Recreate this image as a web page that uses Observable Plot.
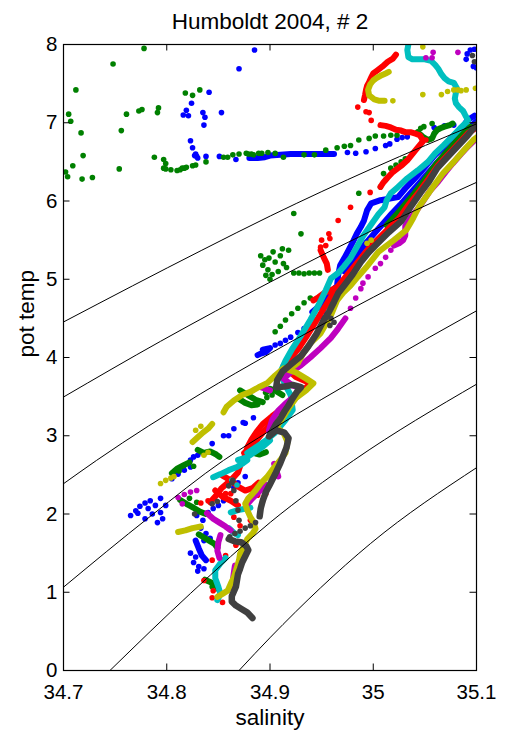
<!DOCTYPE html>
<html><head><meta charset="utf-8">
<script src="https://cdn.jsdelivr.net/npm/d3@7"></script>
<script src="https://cdn.jsdelivr.net/npm/@observablehq/plot@0.6"></script>
<style>body{margin:0;background:#fff} svg{display:block}</style>
</head><body><div id="chart"></div>
<script>
const title = "Humboldt 2004, # 2";
const xLabel = "salinity";
const yLabel = "pot temp";
const xTicks = [34.7, 34.8, 34.9, 35, 35.1];
const yTicks = [0, 1, 2, 3, 4, 5, 6, 7, 8];

// isopycnal contour lines [salinity, pot temp]
const isopycnals = [
  [[34.700,4.454],[34.834,5.371],[34.9005,5.810],[35.000,6.42],[35.101,6.991]],
  [[34.700,3.495],[34.794,4.207],[34.9005,4.966],[34.960,5.371],[35.101,6.244]],
  [[34.700,2.387],[34.732,2.685],[34.833,3.538],[34.9005,4.054],[35.000,4.77],[35.101,5.448]],
  [[34.700,1.065],[34.784,1.969],[34.855,2.685],[34.9005,3.069],[35.000,3.849],[35.101,4.604]],
  [[34.745,0],[34.823,0.985],[34.9005,1.896],[34.981,2.685],[35.101,3.666]],
  [[34.870,0],[34.9005,0.426],[34.9975,1.624],[35.101,2.60]]
];

// ---- blue casts
const blueTracks = [
  [[34.880,6.55],[34.888,6.55],[34.895,6.56],[34.900,6.58],[34.910,6.59],[34.920,6.60],[34.930,6.60],[34.940,6.60],[34.950,6.60],[34.962,6.60]],
  [[35.098,7.09],[35.091,7.03],[35.085,6.91],[35.075,6.80],[35.068,6.69],[35.060,6.59],[35.053,6.48],[35.046,6.37],[35.039,6.27],[35.031,6.16],[35.024,6.05],[35.007,6.01],[34.998,5.97],[34.994,5.88],[34.991,5.75],[34.988,5.67],[34.984,5.58],[34.980,5.47],[34.976,5.37],[34.972,5.27],[34.968,5.18],[34.966,5.05],[34.965,4.92],[34.959,4.83],[34.953,4.73],[34.947,4.65],[34.941,4.58]],
  [[35.100,7.02],[35.092,6.92],[35.083,6.80],[35.074,6.67],[35.066,6.55],[35.058,6.43],[35.050,6.31],[35.042,6.19],[35.034,6.07],[35.026,5.95],[35.018,5.84],[35.010,5.72],[35.002,5.60],[34.994,5.48],[34.986,5.35],[34.979,5.22],[34.972,5.10]],
  [[34.888,4.03],[34.891,4.05],[34.896,4.07],[34.900,4.12],[34.893,4.10]],
  [[34.828,1.66],[34.831,1.56],[34.834,1.47],[34.838,1.41]]
];
const blueDots = [
  [34.885,7.93],[34.870,7.69],[34.841,7.39],[34.824,7.25],[34.819,7.16],[34.816,7.10],[34.821,7.09],[34.835,7.13],[34.837,7.07],[34.853,7.13],[34.836,6.97],[34.823,6.77],[34.825,6.68],[34.828,6.60],[34.829,6.57],[34.830,6.55],[34.827,6.58],[34.838,6.57],[34.851,6.57],[34.867,6.53],
  [35.091,7.88],[35.094,7.93],[35.098,7.94],[35.090,7.81],[35.097,7.72],[35.100,7.70],
  [34.975,6.62],[34.983,6.61],[34.993,6.63],[35.002,6.67],[35.012,6.71],[35.016,6.73],[35.023,6.79],[35.028,6.81],[35.033,6.82],[35.059,6.94],[35.069,6.96],[35.078,6.97],
  [34.960,4.60],[34.955,4.56],[34.950,4.52],[34.944,4.47],[34.937,4.41],[34.933,4.37],[34.927,4.32],[34.920,4.26],[34.915,4.22],[34.910,4.18],[34.905,4.16],
  [34.765,1.98],[34.770,2.04],[34.774,2.10],[34.779,2.14],[34.784,2.17],[34.782,2.07],[34.789,2.11],[34.794,2.20],[34.786,2.00],[34.794,2.02],[34.799,2.11],[34.796,1.94],[34.791,1.89],[34.779,1.94],[34.772,2.01],
  [34.805,2.45],[34.811,2.51],[34.817,2.56],[34.823,2.60],[34.808,2.55],
  [34.829,1.98],[34.835,1.92],[34.840,2.02],[34.845,2.07],[34.850,2.11],[34.855,2.17],
  [34.833,1.82],[34.838,1.75],[34.842,1.69],[34.836,1.66],
  [34.823,1.50],[34.828,1.45],[34.826,1.38],[34.831,1.33],[34.836,1.30],[34.830,1.27],
  [34.826,2.73],[34.844,2.90],[34.855,3.00],[34.860,3.00],[34.865,3.09],[34.874,3.17],[34.884,3.23],[34.876,3.16],
  [34.816,2.60],[34.823,2.69],[34.830,2.75],[34.865,2.34],[34.869,2.40],[34.876,2.48]
];

// ---- green casts
const greenTracks = [
  [[34.805,2.52],[34.810,2.58],[34.816,2.62],[34.822,2.66]],
  [[34.813,2.18],[34.819,2.13],[34.826,2.08],[34.832,2.03],[34.838,2.00]],
  [[34.831,1.74],[34.836,1.70],[34.841,1.66],[34.846,1.62],[34.849,1.57]],
  [[34.837,1.16],[34.842,1.13],[34.847,1.10],[34.850,1.04]],
  [[34.830,2.82],[34.836,2.78],[34.842,2.80],[34.848,2.76],[34.851,2.73]],
  [[34.871,3.58],[34.876,3.54],[34.881,3.50],[34.886,3.46],[34.893,3.43]],
  [[34.870,3.47],[34.876,3.42],[34.882,3.39],[34.888,3.40]],
  [[34.896,3.55],[34.900,3.60],[34.906,3.57],[34.912,3.52]],
  [[34.878,2.80],[34.884,2.78],[34.890,2.76],[34.896,2.79]],
  [[35.043,6.88],[35.048,6.82],[35.053,6.78],[35.057,6.80],[35.059,6.86],[35.062,6.91],[35.065,6.93],[35.069,6.95],[35.074,6.97],[35.077,6.99]],
  [[35.094,6.95],[35.086,6.85],[35.078,6.73],[35.070,6.61],[35.062,6.49],[35.055,6.37],[35.048,6.24],[35.040,6.10],[35.031,5.96],[35.022,5.82],[35.013,5.69]]
];
const greenDots = [
  [34.778,7.95],[34.748,7.75],[34.712,7.42],[34.705,7.11],[34.707,7.02],[34.717,6.87],[34.719,6.58],[34.709,6.45],[34.702,6.37],[34.704,6.31],[34.718,6.28],[34.728,6.30],[34.754,6.41],[34.756,6.90],[34.761,7.11],[34.773,7.15],[34.776,7.17],[34.791,7.13],[34.792,7.19],[34.788,6.56],[34.797,6.53],[34.799,6.48],[34.818,7.38],[34.825,7.35],[34.832,7.42],
  [34.797,6.42],[34.799,6.41],[34.804,6.40],[34.810,6.39],[34.813,6.40],[34.815,6.42],[34.817,6.42],[34.819,6.43],[34.825,6.45],[34.828,6.46],[34.838,6.50],[34.855,6.56],[34.859,6.56],[34.864,6.59],[34.870,6.60],[34.877,6.61],[34.879,6.60],[34.882,6.60],[34.884,6.59],[34.889,6.61],[34.892,6.61],[34.898,6.62],[34.905,6.61],[34.913,6.56],[34.933,6.59],[34.943,6.59],[34.954,6.65],[34.965,6.68],[34.972,6.70],[34.978,6.71],[34.986,6.78],[34.996,6.80],[35.002,6.83],[35.010,6.83],[35.017,6.84],[35.023,6.84],
  [35.046,6.93],[35.049,6.95],[35.057,6.99],
  [35.010,6.35],[35.017,6.42],[35.022,6.46],[35.027,6.50],[35.031,6.54],[35.012,6.27],[35.007,6.18],[34.986,6.10],[34.923,5.84],[34.930,5.58],[34.912,5.39],
  [34.891,5.30],[34.895,5.25],[34.893,5.18],[34.898,5.12],[34.896,5.05],[34.900,5.00],[34.903,5.35],[34.905,5.22],[34.908,5.10],[34.910,5.30],[34.913,5.20],[34.916,5.15],[34.918,5.37],[34.902,5.06],[34.899,5.27],
  [34.923,5.08],[34.928,5.08],[34.933,5.07],[34.938,5.08],[34.943,5.08],[34.948,5.08],
  [34.939,4.76],[34.933,4.70],[34.927,4.63],[34.921,4.56],[34.915,4.48],[34.910,4.40],[34.905,4.33],
  [34.826,2.61],[34.812,2.55],[34.822,2.20],[34.829,2.15],[34.844,1.07],[34.897,3.49],[34.902,3.52]
];

// ---- red casts
const redTracks = [
  [[35.022,7.87],[35.019,7.82],[35.014,7.78],[35.009,7.72],[35.004,7.67],[35.000,7.63],[34.998,7.58],[34.996,7.52],[34.994,7.47],[34.993,7.42],[34.992,7.35],[34.991,7.29]],
  [[35.007,6.97],[35.012,6.96],[35.017,6.94],[35.022,6.91],[35.027,6.90],[35.031,6.88],[35.036,6.88],[35.041,6.86],[35.045,6.84],[35.047,6.80],[35.048,6.76],[35.041,6.65],[35.033,6.52],[35.028,6.46],[35.024,6.42],[35.019,6.37],[35.014,6.30],[35.010,6.24],[35.007,6.18]],
  [[35.100,6.94],[35.092,6.87],[35.083,6.74],[35.073,6.60],[35.063,6.46],[35.054,6.29],[35.044,6.11],[35.034,5.95],[35.025,5.78],[35.015,5.65],[35.005,5.52],[34.996,5.40],[34.988,5.27],[34.980,5.14],[34.972,5.01],[34.964,4.88],[34.957,4.73],[34.950,4.58],[34.943,4.43],[34.935,4.26],[34.928,4.12],[34.920,3.99],[34.913,3.89],[34.925,3.75],[34.939,3.67],[34.930,3.55],[34.922,3.45],[34.912,3.35],[34.902,3.25],[34.893,3.15],[34.887,3.05],[34.882,2.95],[34.878,2.85],[34.876,2.75],[34.872,2.65],[34.869,2.53],[34.862,2.43],[34.853,2.33],[34.848,2.24],[34.842,2.15]],
  [[34.949,5.37],[34.952,5.28],[34.955,5.20],[34.956,5.12]],
  [[34.942,4.73],[34.947,4.77],[34.952,4.82],[34.959,4.86],[34.965,4.90]],
  [[34.854,2.49],[34.862,2.43],[34.869,2.35],[34.876,2.30],[34.883,2.33],[34.889,2.40]],
  [[34.847,2.30],[34.854,2.22],[34.862,2.17],[34.869,2.11]],
  [[34.899,3.13],[34.893,3.04],[34.887,2.94],[34.881,2.85],[34.875,2.78]]
];
const redDots = [
  [34.985,7.20],[34.993,7.14],[34.996,7.13],[34.998,7.03],[35.051,6.78],[34.950,5.50],[34.954,5.43],[34.958,5.52],[34.957,5.58],[34.949,5.41],[34.966,5.75],[34.978,5.92],[34.997,6.11],
  [34.865,1.96],[34.844,1.41],[34.836,1.15],[34.844,0.93],[34.854,0.87],[34.845,1.02],[34.850,0.95],[34.833,2.14],[34.840,2.17],[34.857,2.26],[34.862,2.26],[34.888,2.24],[34.893,2.17],[34.896,2.26],[34.881,1.92],[34.871,1.85],[34.867,1.60],[34.857,1.47]
];

// ---- cyan casts
const cyanTracks = [
  [[35.034,8.00],[35.033,7.93],[35.034,7.84],[35.038,7.81],[35.044,7.81],[35.050,7.81],[35.056,7.79],[35.060,7.74],[35.063,7.69],[35.066,7.62],[35.069,7.57],[35.073,7.53],[35.078,7.51],[35.081,7.44],[35.080,7.38],[35.079,7.31],[35.080,7.25],[35.083,7.20],[35.087,7.15],[35.089,7.10],[35.092,7.03],[35.085,6.94],[35.077,6.83],[35.068,6.71],[35.060,6.61],[35.053,6.50],[35.043,6.39],[35.033,6.29],[35.024,6.18],[35.017,6.10],[35.013,6.01],[35.011,5.92],[35.005,5.83],[34.998,5.70],[34.990,5.55],[34.984,5.41],[34.978,5.27],[34.972,5.17],[34.966,5.08],[34.959,5.01],[34.954,4.86],[34.947,4.67],[34.939,4.48],[34.930,4.28],[34.922,4.12],[34.915,3.96],[34.910,3.81],[34.915,3.64],[34.920,3.52],[34.922,3.33],[34.915,3.20],[34.905,3.04],[34.896,2.94],[34.886,2.85],[34.878,2.78]],
  [[34.845,2.47],[34.852,2.51],[34.860,2.56],[34.868,2.60],[34.874,2.65],[34.878,2.69]],
  [[34.862,2.02],[34.869,2.05],[34.877,2.07],[34.881,2.08]],
  [[34.860,1.82],[34.865,1.76],[34.869,1.73]],
  [[34.857,1.44],[34.852,1.37],[34.847,1.28],[34.847,1.18],[34.850,1.07],[34.852,0.98],[34.849,0.90]],
  [[34.900,2.94],[34.893,2.86],[34.885,2.79],[34.877,2.72],[34.869,2.69]]
];
const cyanDots = [[34.863,2.43],[34.868,2.37]];

// ---- magenta casts
const magentaTracks = [
  [[35.100,6.80],[35.092,6.70],[35.085,6.60],[35.077,6.48],[35.070,6.37],[35.063,6.25],[35.055,6.13],[35.049,6.01],[35.042,5.88],[35.036,5.78],[35.031,5.68],[35.031,5.56],[35.029,5.50],[35.025,5.46],[35.020,5.43]],
  [[34.973,4.50],[34.966,4.37],[34.959,4.25],[34.949,4.12],[34.939,4.00],[34.930,3.90],[34.920,3.81],[34.913,3.73],[34.922,3.64],[34.930,3.61],[34.925,3.52],[34.915,3.41],[34.908,3.32],[34.902,3.20],[34.899,3.07]],
  [[34.839,2.01],[34.845,1.94],[34.851,1.89],[34.857,1.84],[34.862,1.79]],
  [[34.852,1.73],[34.850,1.64],[34.849,1.53],[34.851,1.44]],
  [[34.866,1.34],[34.865,1.25],[34.864,1.15],[34.862,1.06]],
  [[34.904,2.64],[34.906,2.56],[34.908,2.48]],
  [[34.896,2.37],[34.889,2.28],[34.883,2.20],[34.877,2.11]],
  [[34.891,3.62],[34.900,3.58]]
];
const magentaDots = [
  [35.051,7.83],[35.058,7.90],[35.057,7.83],[35.082,7.90],
  [35.017,5.37],[35.012,5.28],[35.007,5.20],[35.002,5.14],[34.995,5.03],[34.990,4.95],[34.988,4.88],[34.983,4.76],[34.978,4.63],
  [34.811,2.21],[34.817,2.25],[34.823,2.28],[34.829,2.30],[34.815,2.13]
];

// ---- olive casts
const oliveTracks = [
  [[35.015,7.65],[35.012,7.63],[35.007,7.60],[35.003,7.57],[35.000,7.54],[34.997,7.49],[34.995,7.42],[34.996,7.35],[34.998,7.33],[35.001,7.30],[35.006,7.28],[35.011,7.28]],
  [[35.101,6.82],[35.097,6.78],[35.088,6.65],[35.078,6.50],[35.068,6.36],[35.059,6.20],[35.051,6.05],[35.044,5.92],[35.039,5.79],[35.036,5.72],[35.032,5.63],[35.020,5.50],[35.005,5.35],[34.993,5.15],[34.985,5.03],[34.978,4.92],[34.971,4.83],[34.965,4.73],[34.959,4.54],[34.949,4.31],[34.939,4.18],[34.932,4.05],[34.927,3.93],[34.918,3.84],[34.925,3.81],[34.935,3.73],[34.942,3.67],[34.935,3.58],[34.925,3.48],[34.918,3.35],[34.912,3.22],[34.906,3.11],[34.913,3.04],[34.917,2.92],[34.915,2.78],[34.910,2.69],[34.902,2.56],[34.897,2.47],[34.891,2.39],[34.886,2.30],[34.879,2.20],[34.876,2.13],[34.878,2.05],[34.881,1.96],[34.884,1.90],[34.886,1.81],[34.883,1.75],[34.878,1.68],[34.875,1.60],[34.871,1.49],[34.870,1.41],[34.868,1.32],[34.865,1.19],[34.862,1.11],[34.859,1.02],[34.854,0.98],[34.849,0.94]],
  [[34.913,3.86],[34.905,3.77],[34.897,3.67],[34.889,3.62],[34.881,3.56],[34.873,3.52],[34.865,3.45],[34.858,3.37],[34.855,3.30]],
  [[34.825,2.92],[34.830,2.98],[34.835,3.04],[34.840,3.09],[34.844,3.15]],
  [[34.811,1.77],[34.818,1.79],[34.825,1.82],[34.833,1.84]]
];
const oliveDots = [
  [35.048,7.97],[35.048,7.36],[35.066,7.36],[35.072,7.40],[35.078,7.42],[35.082,7.42],[35.085,7.41],[35.090,7.42],[35.099,7.44],[35.019,7.28],[34.998,5.50],[34.994,5.46],
  [34.794,2.39],[34.799,2.43],[34.804,2.46],[34.807,2.48],[34.836,2.75],[34.840,2.79],[34.828,3.07],[34.833,3.12]
];

// ---- dark grey casts
const greyTracks = [
  [[35.100,6.98],[35.091,6.83],[35.081,6.69],[35.071,6.55],[35.062,6.42],[35.054,6.25],[35.046,6.11],[35.036,5.92],[35.027,5.74],[35.015,5.60],[35.005,5.47],[34.996,5.35],[34.988,5.22],[34.980,5.06],[34.973,4.94],[34.966,4.82],[34.962,4.71],[34.957,4.58],[34.951,4.45],[34.945,4.30],[34.937,4.14],[34.930,4.02],[34.920,3.91],[34.912,3.82],[34.907,3.71],[34.906,3.62],[34.914,3.63],[34.922,3.65],[34.930,3.62],[34.926,3.56],[34.922,3.48],[34.918,3.39],[34.914,3.31],[34.910,3.22],[34.906,3.15],[34.902,3.06],[34.899,2.99],[34.906,3.07],[34.914,3.04],[34.918,2.97],[34.916,2.85],[34.913,2.75],[34.910,2.65],[34.905,2.51],[34.900,2.38],[34.896,2.28],[34.893,2.17],[34.891,2.07],[34.890,1.97]],
  [[34.860,1.68],[34.866,1.65],[34.872,1.64],[34.877,1.59],[34.879,1.54],[34.876,1.46],[34.873,1.38],[34.871,1.30],[34.869,1.23],[34.868,1.15],[34.867,1.07],[34.865,1.01],[34.863,0.95],[34.863,0.88],[34.867,0.83],[34.872,0.79],[34.878,0.74],[34.883,0.67]]
];
const greyDots = [
  [34.886,1.89],[34.881,1.85],[34.876,1.82],[34.871,1.78],[34.866,1.75],[34.861,1.71],[34.827,2.00],[34.844,2.13],[34.849,2.16],[34.860,2.36],[34.863,2.40],
  [34.864,2.43],[34.865,2.30],[34.867,2.17],[34.869,2.05],[34.870,1.92],
  [34.959,4.50],[34.962,4.45],[34.958,4.41],[35.096,7.86],[35.098,7.78]
];

const casts = [
  {color: "#0000ff", tracks: blueTracks, dots: blueDots, w: 6},
  {color: "#008000", tracks: greenTracks, dots: greenDots, w: 6},
  {color: "#ff0000", tracks: redTracks, dots: redDots, w: 6},
  {color: "#00bfbf", tracks: cyanTracks, dots: cyanDots, w: 6},
  {color: "#bf00bf", tracks: magentaTracks, dots: magentaDots, w: 6},
  {color: "#bfbf00", tracks: oliveTracks, dots: oliveDots, w: 6},
  {color: "#404040", tracks: greyTracks, dots: greyDots, w: 6.5}
];

const toRows = (segs) => segs.flatMap((seg, i) => seg.map(([s, t]) => ({s, t, seg: i})));

const W = 505, H = 736, mT = 44, mR = 29, mB = 66, mL = 63;
const fw = W - mL - mR, fh = H - mT - mB, tl = 6.5;
const font = "'Liberation Sans', Arial, Helvetica, sans-serif";

const marks = [];
for (const c of casts) {
  marks.push(Plot.line(toRows(c.tracks), {x: "s", y: "t", z: "seg", stroke: c.color, strokeWidth: c.w, strokeLinecap: "round", strokeLinejoin: "round", clip: true}));
  marks.push(Plot.dot(c.dots, {x: d => d[0], y: d => d[1], r: 2.8, fill: c.color, stroke: "none", clip: true}));
}
marks.push(Plot.line(toRows(isopycnals), {x: "s", y: "t", z: "seg", stroke: "black", strokeWidth: 1, curve: "monotone-x", clip: true}));

// axes box with inward ticks
marks.push(Plot.frame({stroke: "black", strokeWidth: 1.2}));
marks.push(Plot.tickX(xTicks, {x: d => d, insetTop: fh - tl, stroke: "black"}));
marks.push(Plot.tickX(xTicks, {x: d => d, insetBottom: fh - tl, stroke: "black"}));
marks.push(Plot.tickY(yTicks, {y: d => d, insetLeft: fw - tl, stroke: "black"}));
marks.push(Plot.tickY(yTicks, {y: d => d, insetRight: fw - tl, stroke: "black"}));

// tick labels and titles
marks.push(Plot.text(xTicks, {x: d => d, text: d => String(d), frameAnchor: "bottom", lineAnchor: "bottom", dy: 28, fontSize: 20.5, fill: "black"}));
marks.push(Plot.text(yTicks, {y: d => d, text: d => String(d), frameAnchor: "left", textAnchor: "end", lineAnchor: "middle", dx: -6, fontSize: 20.5, fill: "black"}));
marks.push(Plot.text([title], {text: d => d, frameAnchor: "top", lineAnchor: "bottom", dy: -16, fontSize: 22.5, fill: "black"}));
marks.push(Plot.text([xLabel], {text: d => d, frameAnchor: "bottom", lineAnchor: "bottom", dy: 54, fontSize: 22.5, fill: "black"}));
marks.push(Plot.text([yLabel], {text: d => d, frameAnchor: "left", lineAnchor: "bottom", rotate: -90, dx: -30, fontSize: 22.5, fill: "black"}));

const chart = Plot.plot({
  width: W, height: H,
  marginTop: mT, marginRight: mR, marginBottom: mB, marginLeft: mL,
  x: {domain: [34.7, 35.1], axis: null},
  y: {domain: [0, 8], axis: null},
  style: {fontFamily: font, background: "white", overflow: "visible"},
  marks
});
document.getElementById("chart").appendChild(chart);
</script>
</body></html>
